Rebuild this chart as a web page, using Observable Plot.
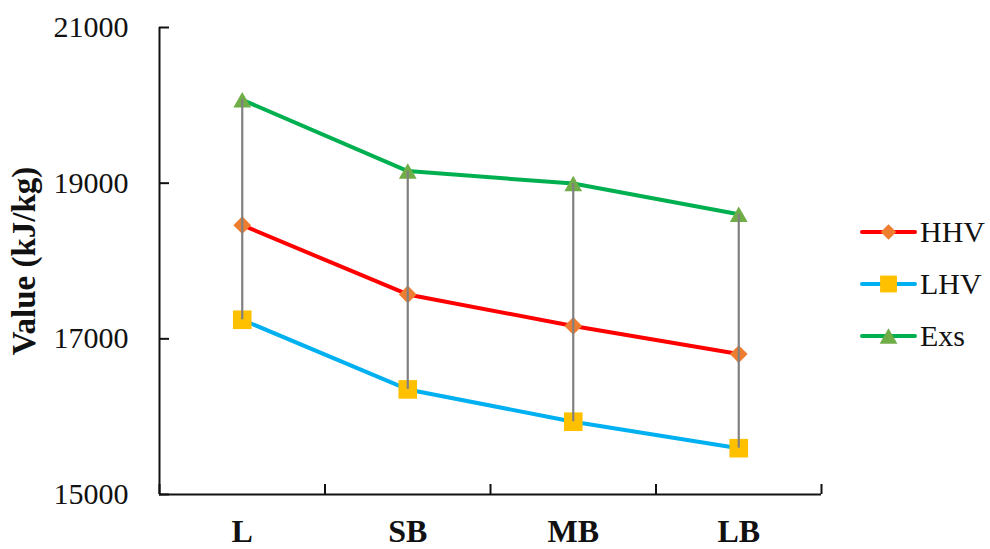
<!DOCTYPE html>
<html><head><meta charset="utf-8">
<script src="https://cdn.jsdelivr.net/npm/d3@7"></script>
<script src="https://cdn.jsdelivr.net/npm/@observablehq/plot@0.6"></script>
<style>
body{margin:0;background:#fff;}
#wrap{position:relative;width:990px;height:549px;font-family:"Liberation Serif","Times New Roman",serif;}
#legend{position:absolute;left:860px;top:206px;}
.row{display:flex;align-items:center;height:52px;font-size:30px;color:#111;}
.row svg{margin-right:3px;display:block;}
</style></head><body><div id="wrap"><div id="chart"></div><div id="legend"></div></div>
<script>
// ---- data ----
const categories = ["L", "SB", "MB", "LB"];
const hhv = [18460, 17570, 17165, 16805];
const lhv = [17245, 16350, 15935, 15595];
const exs = [20070, 19155, 18995, 18600];
const yTicks = [15000, 17000, 19000, 21000];
const seriesNames = ["HHV", "LHV", "Exs"];

const lineColors = {HHV: "#FF0000", LHV: "#00B0F0", Exs: "#00B050"};
const markColors = {HHV: "#ED7D31", LHV: "#FFC000", Exs: "#70AD47"};

const valuesBy = {HHV: hhv, LHV: lhv, Exs: exs};
const rows = seriesNames.flatMap(s => categories.map((c, i) => ({series: s, i, cat: c, value: valuesBy[s][i]})));
const ranges = categories.map((c, i) => ({i, lo: lhv[i], hi: exs[i]}));

const W = 990, H = 549, mL = 159, mR = 169, mT = 27, mB = 55;
const xDom = [-0.5, categories.length - 0.5];
const yDom = [yTicks[0], yTicks[yTicks.length - 1]];
const pxX = (xDom[1] - xDom[0]) / (W - mL - mR);
const pxY = (yDom[1] - yDom[0]) / (H - mT - mB);
const bounds = d3.range(categories.length + 1).map(k => k - 0.5);

const sub = s => rows.filter(d => d.series === s);

const chart = Plot.plot({
  width: W, height: H,
  marginLeft: mL, marginRight: mR, marginTop: mT, marginBottom: mB,
  style: {fontFamily: "Liberation Serif, Times New Roman, serif", fontSize: "30px", color: "#111", background: "white"},
  x: {type: "linear", domain: xDom, label: null},
  y: {domain: yDom, label: null},
  marks: [
    // axis lines
    Plot.ruleY([yDom[0]], {stroke: "#111", strokeWidth: 2}),
    Plot.ruleX([xDom[0]], {stroke: "#111", strokeWidth: 2}),
    // inward ticks
    Plot.ruleY(yTicks, {x1: xDom[0], x2: xDom[0] + 10 * pxX, stroke: "#111", strokeWidth: 2}),
    Plot.ruleX(bounds, {y1: yDom[0], y2: yDom[0] + 10 * pxY, stroke: "#111", strokeWidth: 2}),
    Plot.axisY(yTicks, {tickSize: 0, tickPadding: 31, tickFormat: d => String(d), fontSize: 30, label: null}),
    Plot.axisX(d3.range(categories.length), {tickSize: 0, tickPadding: 25, tickFormat: i => categories[i], fontSize: 32, fontWeight: "bold", label: null}),
    Plot.text(["Value (kJ/kg)"], {text: d => d, frameAnchor: "left", rotate: -90, dx: -135, fontWeight: "bold", fontSize: 33, textAnchor: "middle", lineAnchor: "middle", fill: "#111"}),
    // lines
    ...seriesNames.map(s => Plot.line(sub(s), {x: "i", y: "value", stroke: lineColors[s], strokeWidth: 4, strokeLinejoin: "round", strokeLinecap: "round"})),
    // markers
    Plot.dot(sub("HHV"), {x: "i", y: "value", symbol: "diamond2", r: 8, fill: markColors.HHV, stroke: "none"}),
    Plot.dot(sub("LHV"), {x: "i", y: "value", symbol: "square", r: 10.5, fill: markColors.LHV, stroke: "none"}),
    Plot.dot(sub("Exs"), {x: "i", y: "value", symbol: "triangle", r: 6.6, dy: 2.5, fill: markColors.Exs, stroke: "none"}),
    // high-low lines
    Plot.ruleX(ranges, {x: "i", y1: "lo", y2: "hi", stroke: "#808080", strokeWidth: 2.2})
  ]
});
document.getElementById("chart").appendChild(chart);

// legend
const legend = document.getElementById("legend");
const symPaths = {
  HHV: d3.symbol(d3.symbolDiamond2, Math.PI * 7 * 7)(),
  LHV: d3.symbol(d3.symbolSquare, Math.PI * 9.5 * 9.5)(),
  Exs: d3.symbol(d3.symbolTriangle, Math.PI * 6.6 * 6.6)()
};
seriesNames.forEach(s => {
  const row = document.createElement("div");
  row.className = "row";
  const dyT = s === "Exs" ? 2.5 : 0;
  row.innerHTML = `<svg width="57" height="24"><line x1="2" x2="55" y1="12" y2="12" stroke="${lineColors[s]}" stroke-width="4" stroke-linecap="round"/><path d="${symPaths[s]}" transform="translate(28.5,${12 + dyT})" fill="${markColors[s]}"/></svg><span>${s}</span>`;
  legend.appendChild(row);
});
</script>
</body></html>
